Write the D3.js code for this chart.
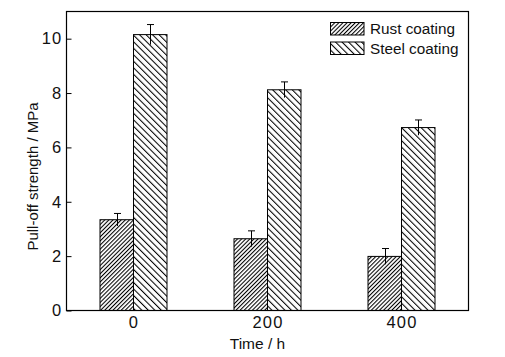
<!DOCTYPE html>
<html>
<head>
<meta charset="utf-8">
<script src="https://cdn.jsdelivr.net/npm/d3@7"></script>
<style>
  body { margin: 0; background: #fff; }
  svg { display: block; }
  text { font-family: "Liberation Sans", Arial, sans-serif; fill: #111; }
</style>
</head>
<body>
<svg id="chart" width="505" height="357"></svg>
<script>
// ---- data ----
const times = [0, 200, 400];
const rustValues = [3.34, 2.64, 1.99];
const rustErrors = [0.23, 0.29, 0.29];
const steelValues = [10.15, 8.12, 6.73];
const steelErrors = [0.37, 0.29, 0.28];
const yTicks = [0, 2, 4, 6, 8, 10];
const seriesNames = ["Rust coating", "Steel coating"];

// ---- layout ----
const svg = d3.select("#chart");
const L = 66.5, R = 468.5, T = 11.5, B = 310.5;
const x = d3.scaleLinear().domain([-100, 500]).range([L, R]);
const y = d3.scaleLinear().domain([0, 11]).range([B, T]);
const barHalf = 50; // bar width in data units

// patterns
const defs = svg.append("defs");
function hatch(id, spacing, angle) {
  const p = defs.append("pattern")
    .attr("id", id)
    .attr("patternUnits", "userSpaceOnUse")
    .attr("width", spacing).attr("height", 10)
    .attr("patternTransform", `rotate(${angle})`);
  p.append("rect").attr("width", spacing).attr("height", 10).attr("fill", "#fff");
  p.append("line").attr("x1", 0.5).attr("x2", 0.5).attr("y1", 0).attr("y2", 10)
    .attr("stroke", "#000").attr("stroke-width", 1.1);
}
hatch("rustHatch", 2.9, 45);
hatch("steelHatch", 4.6, -45);

const series = [
  { name: seriesNames[0], values: rustValues, errors: rustErrors, off: -barHalf, fill: "url(#rustHatch)" },
  { name: seriesNames[1], values: steelValues, errors: steelErrors, off: 0, fill: "url(#steelHatch)" }
];

// bars
series.forEach(s => {
  const g = svg.append("g");
  g.selectAll("rect").data(times).enter().append("rect")
    .attr("x", (t) => x(t + s.off))
    .attr("width", () => x(barHalf) - x(0))
    .attr("y", (t, i) => y(s.values[i]))
    .attr("height", (t, i) => y(0) - y(s.values[i]))
    .attr("fill", s.fill)
    .attr("stroke", "#000").attr("stroke-width", 1);
});

// error bars
series.forEach(s => {
  const g = svg.append("g").attr("stroke", "#000").attr("stroke-width", 1);
  times.forEach((t, i) => {
    const cx = Math.round(x(t + s.off + barHalf / 2)) + 0.5;
    const top = y(s.values[i] + s.errors[i]);
    const bot = y(s.values[i] - s.errors[i]);
    g.append("line").attr("x1", cx).attr("x2", cx).attr("y1", top).attr("y2", bot);
    g.append("line").attr("x1", cx - 3.5).attr("x2", cx + 3.5).attr("y1", top).attr("y2", top);
  });
});

// frame
svg.append("rect").attr("x", L).attr("y", T).attr("width", R - L).attr("height", B - T)
  .attr("fill", "none").attr("stroke", "#000").attr("stroke-width", 1.2);

// y axis (inward ticks)
const yAxis = d3.axisLeft(y).tickValues(yTicks).tickSize(-5).tickPadding(10).tickFormat(d3.format("d"));
const ya = svg.append("g").attr("transform", `translate(${L},0)`).call(yAxis);
ya.select(".domain").remove();
ya.selectAll(".tick line").attr("stroke", "#000").attr("stroke-width", 1);
ya.selectAll(".tick text").attr("font-size", 16.5).attr("font-family", "Liberation Sans, Arial, sans-serif")
  .attr("fill", "#111").attr("x", -4).attr("letter-spacing", 1.2);

// x axis
const xAxis = d3.axisBottom(x).tickValues(times).tickSize(0).tickPadding(6).tickFormat(d3.format("d"));
const xa = svg.append("g").attr("transform", `translate(0,${B})`).call(xAxis);
xa.select(".domain").remove();
xa.selectAll(".tick text").attr("font-size", 16.5).attr("font-family", "Liberation Sans, Arial, sans-serif")
  .attr("fill", "#111").attr("letter-spacing", 1.2);

// axis titles
svg.append("text").attr("x", 257.5).attr("y", 349).attr("text-anchor", "middle")
  .attr("font-size", 15.5).text("Time / h");
svg.append("text").attr("transform", "translate(37.5,176.5) rotate(-90)").attr("text-anchor", "middle")
  .attr("font-size", 15).text("Pull-off strength / MPa");

// legend
const lg = svg.append("g");
series.forEach((s, i) => {
  const yy = 22.5 + i * 19.5;
  lg.append("rect").attr("x", 330.5).attr("y", yy).attr("width", 33.5).attr("height", 12.5)
    .attr("fill", s.fill).attr("stroke", "#000").attr("stroke-width", 1);
  lg.append("text").attr("x", 370).attr("y", yy + 11.5).attr("font-size", 15.3).text(s.name);
});
</script>
</body>
</html>
